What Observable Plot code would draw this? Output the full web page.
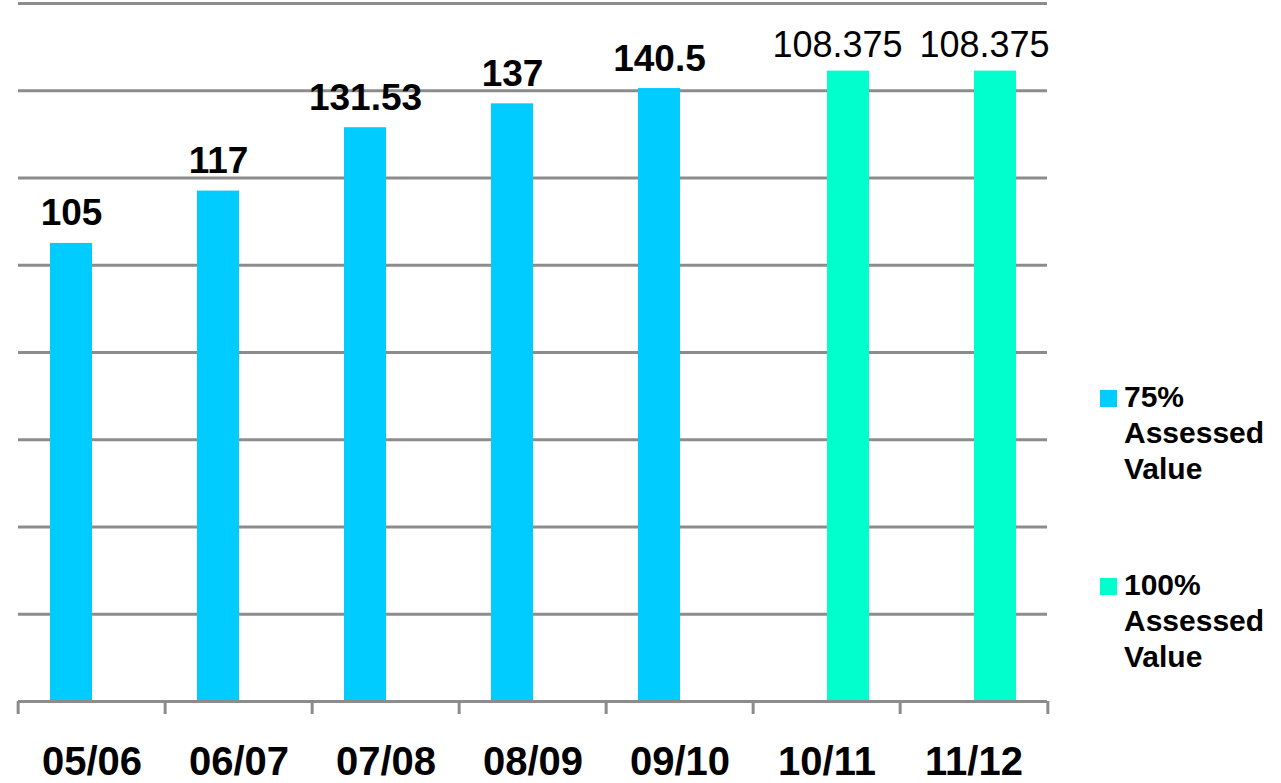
<!DOCTYPE html>
<html>
<head>
<meta charset="utf-8">
<script src="https://cdn.jsdelivr.net/npm/d3@7"></script>
<script src="https://cdn.jsdelivr.net/npm/@observablehq/plot@0.6"></script>
<style>
  html, body { margin: 0; padding: 0; background: #fff; }
  #wrap { position: relative; width: 1281px; height: 783px; overflow: hidden; font-family: "Liberation Sans", Arial, sans-serif; }
  .sw { position: absolute; width: 17px; height: 17px; }
  .lt { position: absolute; width: 150px; font-size: 30px; font-weight: bold; line-height: 36px; color: #000; }
</style>
</head>
<body>
<div id="wrap"></div>
<script>
const years = ["05/06", "06/07", "07/08", "08/09", "09/10", "10/11", "11/12"];
const seriesNames = ["75% Assessed Value", "100% Assessed Value"];
const values75 = [105, 117, 131.53, 137, 140.5, null, null];
const values100 = [null, null, null, null, null, 144.5, 144.5];
const barLabels = ["105", "117", "131.53", "137", "140.5", "108.375", "108.375"];
const seriesColors = ["#00CCFF", "#00FFCC"];

const rows = [];
years.forEach((y, i) => {
  if (values75[i] != null) rows.push({year: y, series: seriesNames[0], value: values75[i], label: barLabels[i]});
  if (values100[i] != null) rows.push({year: y, series: seriesNames[1], value: values100[i], label: barLabels[i]});
});
const rows75 = rows.filter(d => d.series === seriesNames[0]);
const rows100 = rows.filter(d => d.series === seriesNames[1]);

const W = 1281, H = 783, mL = 15, mR = 232;
const half = (W - mL - mR) / years.length / 2;
const gridColor = "#8c8c8c";

const chart = Plot.plot({
  width: W,
  height: H,
  marginLeft: mL,
  marginRight: mR,
  marginTop: 3,
  marginBottom: 82,
  style: {fontFamily: "'Liberation Sans', Arial, sans-serif", background: "#fff"},
  fx: {domain: years, padding: 0, label: null, axis: null},
  x: {domain: seriesNames, paddingInner: 0, paddingOuter: 0.72, axis: null},
  y: {domain: [0, 160], axis: null},
  color: {domain: seriesNames, range: seriesColors},
  marks: [
    Plot.gridY({interval: 20, stroke: gridColor, strokeOpacity: 1, strokeWidth: 3}),
    Plot.barY(rows, {fx: "year", x: "series", y: "value", fill: "series"}),
    Plot.ruleY([0], {stroke: gridColor, strokeWidth: 3}),
    Plot.text(rows75, {fx: "year", x: "series", y: "value", text: "label", lineAnchor: "bottom", dy: -18, fontSize: 37, fontWeight: "bold", fill: "#000"}),
    Plot.text(rows100, {fx: "year", x: "series", y: "value", text: "label", lineAnchor: "bottom", dy: -14, dx: -11, fontSize: 36, fontWeight: "normal", fill: "#000"}),
    Plot.axisFx({anchor: "bottom", tickSize: 0, tickPadding: 45, fontSize: 40, fontWeight: "bold", label: null, fill: "#000"}),
    Plot.axisFx({anchor: "bottom", tickSize: 13, fill: "none", dx: -half, stroke: gridColor, strokeWidth: 3, strokeOpacity: 1, label: null}),
    Plot.axisFx({anchor: "bottom", ticks: [years[years.length - 1]], tickSize: 13, fill: "none", dx: half, stroke: gridColor, strokeWidth: 3, strokeOpacity: 1, label: null})
  ]
});

const wrap = document.getElementById("wrap");
wrap.appendChild(chart);

seriesNames.forEach((name, i) => {
  const sw = document.createElement("div");
  sw.className = "sw";
  sw.style.left = "1100px";
  sw.style.top = (390 + i * 188) + "px";
  sw.style.background = seriesColors[i];
  wrap.appendChild(sw);
  const t = document.createElement("div");
  t.className = "lt";
  t.style.left = "1124px";
  t.style.top = (379 + i * 188) + "px";
  t.textContent = name;
  wrap.appendChild(t);
});
</script>
</body>
</html>
